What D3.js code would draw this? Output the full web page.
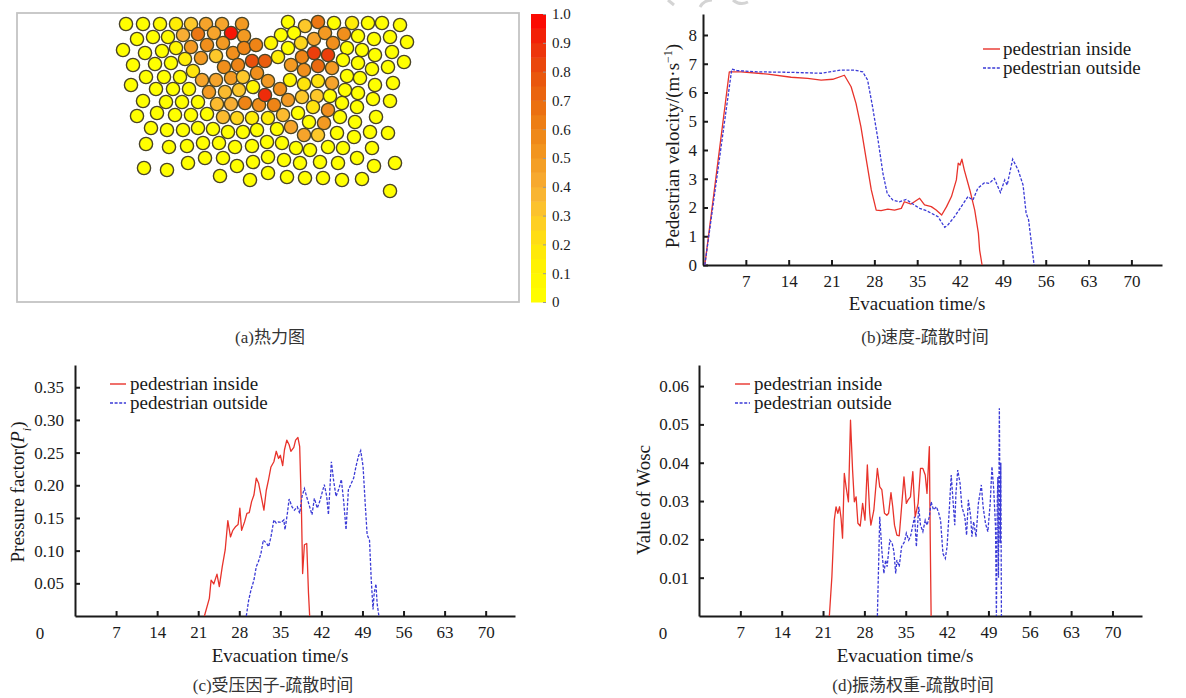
<!DOCTYPE html>
<html>
<head>
<meta charset="utf-8">
<script src="https://cdn.jsdelivr.net/npm/d3@7"></script>
<style>
  body { margin: 0; background: #fff; }
  svg { display: block; }
</style>
</head>
<body>
<svg id="fig" width="1186" height="698"></svg>
<script>
// ---------- (a) crowd pressure heat map: pedestrians [x, y, pressure] in room units ----------
const roomWidth = 50.2, roomDepth = 28.9, pedRadius = 0.66;
const pedestrians = [
  [10.9,1.1,0],[12.6,1.1,0],[14.3,1.1,0.05],[15.9,1.1,0.15],[17.4,1.1,0.3],[18.9,1.1,0.45],[20.5,1.1,0.45],[22.5,1.1,0.5],
  [12.0,2.6,0],[13.6,2.4,0],[15.1,2.4,0.05],[16.6,2.2,0.4],[18.1,2.1,0.65],[19.7,2.0,0.45],[21.4,2.0,0.95],[22.7,2.3,0.5],
  [10.6,3.7,0],[12.8,4.0,0],[14.5,3.8,0],[15.9,3.5,0.1],[17.4,3.4,0.5],[19.0,3.2,0.55],[20.6,3.0,0.5],[21.6,4.0,0.55],[22.7,3.5,0.6],[23.9,3.2,0.6],
  [11.6,5.2,0],[13.8,5.1,0],[15.4,5.0,0],[16.8,4.6,0.15],[18.4,4.5,0.5],[19.9,4.3,0.3],[20.7,5.4,0.55],[22.1,5.2,0.6],[23.5,4.8,0.8],
  [12.9,6.4,0],[14.7,6.4,0],[16.3,6.4,0],[17.6,5.8,0.2],[18.5,6.7,0.45],[19.9,6.7,0.45],[21.4,6.5,0.5],[22.6,6.4,0.3],[24.0,6.0,0.55],
  [11.4,7.2,0],[13.9,7.6,0],[15.6,7.6,0],[17.2,7.6,0.05],[19.2,7.9,0.5],[20.8,7.9,0.35],[22.2,7.7,0.3],[23.6,7.4,0.1],
  [12.6,8.8,0],[14.9,8.9,0],[16.5,8.9,0],[18.1,8.9,0],[20.0,9.1,0.35],[21.4,9.1,0.4],[22.8,9.0,0.6],[24.2,9.2,0.55],
  [12.0,10.3,0],[14.0,10.0,0],[15.8,10.2,0],[17.4,10.2,0],[19.0,10.1,0],[20.6,10.4,0.35],[22.0,10.5,0.25],[23.5,10.5,0.15],
  [13.4,11.5,0],[15.0,11.7,0],[16.6,11.7,0],[18.1,11.5,0],[19.6,11.6,0],[21.1,11.9,0],[22.6,11.9,0],[24.0,11.7,0],
  [12.9,13.1,0],[15.2,13.4,0],[17.0,13.3,0],[18.6,13.0,0],[20.2,13.0,0],[21.8,13.4,0],[23.5,13.3,0],
  [18.8,14.5,0],[20.6,14.5,0],[22.0,15.3,0],[23.6,14.9,0],
  [12.7,15.5,0],[15.0,15.7,0],[17.1,15.0,0],[20.3,16.3,0],[23.3,16.7,0],
  [27.1,0.9,0],[28.8,1.3,0.3],[30.1,0.9,0.65],[31.7,1.0,0],[33.5,1.0,0.15],[35.1,1.0,0],[36.5,1.0,0],[38.3,1.2,0],
  [26.4,2.2,0],[27.7,2.0,0],[29.7,2.6,0.45],[30.8,2.0,0.5],[32.7,2.1,0.55],[34.1,2.3,0],[35.7,2.6,0],[37.3,2.4,0],[39.0,2.9,0],
  [25.4,3.0,0.1],[27.1,3.5,0],[28.4,3.0,0.25],[31.6,3.0,0.55],
  [24.8,4.8,0.75],[26.1,4.4,0.15],[28.5,4.4,0.6],[29.7,4.0,0.85],[31.1,4.2,0.85],[33.0,3.5,0],[34.5,3.7,0],[35.8,4.2,0],[37.5,3.9,0],[38.7,4.9,0],[32.6,4.7,0],
  [27.4,5.2,0.5],[28.7,5.7,0.55],[30.1,5.3,0.7],[31.5,5.5,0.5],[34.1,5.0,0],[35.5,5.6,0],[37.1,5.4,0],
  [25.1,6.8,0.5],[27.3,6.7,0.1],[28.7,7.1,0.2],[30.1,6.8,0.2],[31.5,7.0,0.45],[33.0,6.3,0],[34.3,6.5,0],[35.8,7.2,0],[37.6,7.0,0],
  [24.8,8.2,0.9],[26.3,7.6,0.55],[27.1,8.7,0.5],[28.5,8.4,0.3],[30.0,8.3,0.3],[31.3,8.3,0],[32.8,7.7,0],[34.1,8.0,0],[35.6,8.6,0],[37.3,8.8,0],
  [25.7,9.2,0.6],[29.6,9.4,0.2],[31.1,9.7,0.55],[32.5,9.0,0],[34.0,9.4,0],
  [25.1,10.5,0.15],[26.6,10.2,0.35],[28.1,10.0,0],[29.2,10.9,0],[30.7,11.0,0.5],[32.3,10.4,0],[33.8,10.9,0],[35.9,10.4,0],
  [26.0,11.6,0],[27.4,11.4,0.45],[28.7,12.2,0.45],[30.1,12.2,0.3],[32.0,12.0,0],[33.7,12.4,0],[35.3,11.9,0],[37.1,12.0,0],
  [25.0,12.9,0],[26.5,13.0,0],[27.9,13.5,0],[29.3,13.7,0],[31.1,13.4,0],[32.6,13.5,0],[35.5,13.5,0],
  [25.1,14.4,0],[26.7,14.7,0],[28.3,15.0,0],[30.3,14.9,0],[32.1,15.0,0],[34.0,14.5,0],[35.7,15.3,0],[37.8,15.0,0],
  [25.1,16.0,0],[27.0,16.4,0],[28.8,16.5,0],[30.6,16.5,0],[32.5,16.7,0],[34.5,16.6,0],
  [37.3,17.8,0]
];
const colorStops  = [0, 0.1, 0.2, 0.3, 0.4, 0.5, 0.6, 0.7, 0.8, 0.9, 1.0];
const colorValues = ["#ffff00","#fff600","#ffe40c","#fdc82a","#f8ae34","#f39a22","#ee8416","#ea6a10","#e8500c","#ee2c0a","#ff0000"];
const colorbarTicks = [0, 0.1, 0.2, 0.3, 0.4, 0.5, 0.6, 0.7, 0.8, 0.9, 1.0];
const colorbarBands = 20;

// ---------- (b) velocity vs evacuation time: [t (s), v (m/s)] ----------
const velocityInside = [
  [0.3,0],[4.3,6.72],[6.2,6.72],[10.6,6.64],[14.4,6.53],[17.1,6.49],[19.3,6.43],[21.2,6.46],[23.1,6.6],
  [24.2,6.2],[25,5.62],[25.8,4.81],[26.6,3.77],[27.5,2.61],[28.3,1.91],[29.1,1.89],[30.2,1.94],[31.3,1.91],
  [32.4,1.97],[32.9,2.2],[34,2.12],[35.4,2.32],[36.2,2.09],[37.3,2.03],[38.1,1.91],[39,1.74],[39.8,2.03],
  [40.6,2.38],[41.4,2.96],[41.7,3.54],[42,3.48],[42.3,3.68],[42.7,3.3],[43.6,2.61],[44.4,1.91],[45,1.1],
  [45.2,0.52],[45.6,0]
];
const velocityOutside = [
  [0.3,0],[4.7,6.81],[5.6,6.76],[8.9,6.72],[14.4,6.7],[19.3,6.67],[22.6,6.78],[24.7,6.78],[26.1,6.72],
  [26.9,6.43],[27.7,5.51],[28.6,4.35],[29.4,3.19],[30.1,2.49],[31,2.26],[32.1,2.2],[33.2,2.28],[34.3,2.12],
  [35.4,1.97],[36.5,1.89],[37.3,1.8],[38.4,1.68],[39.5,1.31],[40,1.39],[41.1,1.68],[42.2,2.03],[43.3,2.38],
  [44.1,2.26],[44.9,2.67],[46,2.86],[46.8,2.84],[47.6,3.01],[48.6,2.52],[49.3,2.96],[49.7,2.78],[50.6,3.68],
  [51.5,3.3],[52.3,2.78],[52.8,1.8],[53.2,1.57],[53.6,0.87],[54.1,0]
];

// ---------- (c) pressure factor vs evacuation time: [t, P] ----------
const pressureInside = [
  [22.06,0],[22.9,0.027],[23.2,0.055],[23.65,0.049],[24.2,0.064],[24.6,0.045],[25.1,0.0755],[25.6,0.101],
  [26.05,0.146],[26.5,0.121],[26.9,0.131],[27.4,0.137],[27.8,0.140],[28.1,0.165],[28.4,0.131],[28.9,0.144],
  [29.3,0.157],[29.7,0.158],[30.1,0.175],[30.5,0.185],[30.9,0.211],[31.3,0.203],[31.7,0.185],[32.2,0.162],
  [32.6,0.192],[33,0.209],[33.4,0.228],[33.9,0.236],[34.3,0.252],[34.7,0.241],[35,0.246],[35.4,0.230],
  [35.7,0.254],[36.1,0.269],[36.5,0.262],[36.8,0.252],[37.3,0.258],[37.6,0.269],[38,0.273],[38.3,0.259],
  [38.6,0.162],[38.8,0.065],[39.1,0.109],[39.5,0.111],[39.8,0.035],[40,0]
];
const pressureOutside = [
  [29.2,0],[29.6,0.024],[30,0.040],[30.5,0.055],[30.9,0.0755],[31.3,0.084],[31.7,0.096],[32.1,0.116],
  [32.6,0.112],[33,0.106],[33.4,0.121],[33.9,0.147],[34.3,0.142],[34.7,0.144],[35.1,0.143],[35.6,0.147],
  [35.8,0.132],[36.2,0.157],[36.5,0.179],[37,0.167],[37.4,0.162],[37.9,0.167],[38.3,0.157],[38.7,0.183],
  [39.1,0.195],[39.6,0.179],[40,0.167],[40.4,0.155],[40.8,0.18],[41.3,0.165],[41.7,0.175],[42.1,0.188],
  [42.5,0.201],[42.9,0.183],[43.2,0.155],[43.7,0.236],[44.1,0.206],[44.5,0.183],[45,0.195],[45.4,0.209],
  [45.8,0.175],[46.2,0.132],[46.6,0.193],[47.1,0.203],[47.5,0.211],[47.9,0.229],[48.3,0.244],[48.7,0.253],
  [49.1,0.229],[49.5,0.167],[49.8,0.124],[50.2,0.116],[50.5,0.055],[50.8,0.010],[51,0.035],[51.3,0.049],
  [51.5,0.019],[51.8,0]
];

// ---------- (d) oscillation weight vs evacuation time: [t, Wosc] ----------
const woscInside = [
  [22.07,0],[22.5,0.0103],[22.9,0.025],[23.2,0.0285],[23.5,0.0268],[23.8,0.0285],[24.05,0.0255],[24.3,0.0203],
  [24.6,0.0372],[24.9,0.0337],[25.3,0.0298],[25.65,0.0511],[26,0.0381],[26.3,0.0298],[26.6,0.0311],[26.9,0.0242],
  [27.3,0.0235],[27.7,0.0294],[28.1,0.025],[28.5,0.0394],[28.9,0.0268],[29.1,0.0237],[29.6,0.0276],[30.2,0.0385],
  [30.6,0.0337],[30.95,0.033],[31.4,0.0268],[31.8,0.0263],[32.1,0.0268],[32.5,0.0322],[32.8,0.0285],[33.1,0.0237],
  [33.5,0.0211],[33.9,0.0209],[34.3,0.0285],[34.7,0.0363],[35.1,0.0294],[35.4,0.0303],[35.8,0.0311],[36.2,0.0377],
  [36.6,0.0259],[37.1,0.0294],[37.5,0.0385],[37.9,0.0385],[38.3,0.0368],[38.6,0.032],[39,0.0442],[39.15,0.02],[39.3,0]
];
const woscOutside = [
  [30.2,0],[30.4,0.0129],[30.6,0.0259],[30.95,0.0172],[31.3,0.0111],[31.6,0.0146],[31.85,0.0129],[32.3,0.0198],
  [32.7,0.019],[33,0.0168],[33.3,0.0111],[33.5,0.0146],[33.9,0.0129],[34.3,0.0181],[34.8,0.0194],[35.1,0.0216],
  [35.5,0.0198],[35.8,0.0207],[36.1,0.0229],[36.5,0.0259],[36.8,0.0181],[37.2,0.0285],[37.5,0.0237],[37.9,0.022],
  [38.3,0.025],[38.6,0.0237],[39,0.0259],[39.3,0.0298],[39.7,0.0277],[40.2,0.0285],[40.6,0.0268],[40.9,0.025],
  [41.3,0.0163],[41.7,0.015],[42,0.0181],[42.4,0.0285],[42.7,0.0368],[43,0.0303],[43.3,0.0237],[43.5,0.032],
  [43.8,0.0381],[44.2,0.0346],[44.5,0.0285],[45,0.0259],[45.3,0.0211],[45.6,0.0303],[46,0.0259],[46.2,0.0207],
  [46.5,0.0246],[46.9,0.0207],[47.3,0.0294],[47.8,0.0342],[48.1,0.0285],[48.5,0.0242],[48.9,0.022],[49.3,0.0294],
  [49.6,0.039],[49.9,0.0329],[50.2,0.0233],[50.35,0],[50.5,0.03],[50.6,0.0363],[50.7,0.01],[50.85,0.0542],
  [50.95,0.03],[51.0,0.019],[51.1,0.04],[51.2,0]
];

const timeTicks = [7, 14, 21, 28, 35, 42, 49, 56, 63, 70];
const velocityTicks = [0, 1, 2, 3, 4, 5, 6, 7, 8];
const pressureTicks = [0.05, 0.10, 0.15, 0.20, 0.25, 0.30, 0.35];
const woscTicks = [0.01, 0.02, 0.03, 0.04, 0.05, 0.06];
const legendNames = ["pedestrian inside", "pedestrian outside"];
const captions = ["(a)热力图", "(b)速度-疏散时间", "(c)受压因子-疏散时间", "(d)振荡权重-疏散时间"];

// ---------- styling ----------
const SERIF = "'Liberation Serif','Times New Roman',serif";
const CAPTION_FONT = "'Liberation Serif','Noto Sans CJK SC',serif";
const INK = "#1a1a1a";
const RED = "#e8332b";
const BLUE = "#3a3ad6";

const svg = d3.select("#fig");

// faint mark at the top edge of the page
svg.append("g").attr("fill", "none").attr("stroke", "#d4d4d4").attr("stroke-width", 3)
  .selectAll("path").data(["M668,0 L674,5", "M700,7 Q704,0 712,0", "M733,0 Q740,6 748,2"])
  .join("path").attr("d", d => d);

// ================= (a) heat map =================
const heatX = d3.scaleLinear().domain([0, roomWidth]).range([17, 519]);
const heatY = d3.scaleLinear().domain([0, roomDepth]).range([13, 302]);
const heatColor = d3.scaleLinear().domain(colorStops).range(colorValues).interpolate(d3.interpolateRgb);

svg.append("rect")
  .attr("x", heatX(0)).attr("y", heatY(0))
  .attr("width", heatX(roomWidth) - heatX(0)).attr("height", heatY(roomDepth) - heatY(0))
  .attr("fill", "#fff").attr("stroke", "#c4c4c4").attr("stroke-width", 1.8);

const pr = heatX(pedRadius) - heatX(0);
svg.append("g").selectAll("circle").data(pedestrians).join("circle")
  .attr("cx", d => heatX(d[0])).attr("cy", d => heatY(d[1])).attr("r", pr)
  .attr("fill", d => heatColor(d[2]))
  .attr("stroke", "#4a4426").attr("stroke-width", 1.4);

// colour bar
const cbScale = d3.scaleLinear().domain([0, 1]).range([302, 14]);
const bandVals = d3.range(colorbarBands).map(i => i / colorbarBands);
const cbX = 531, cbW = 15;
svg.append("g").selectAll("rect").data(bandVals).join("rect")
  .attr("x", cbX).attr("width", cbW)
  .attr("y", d => cbScale(d + 1 / colorbarBands))
  .attr("height", d => cbScale(d) - cbScale(d + 1 / colorbarBands) + 0.5)
  .attr("fill", d => heatColor(d + 0.5 / colorbarBands));
const cbAxis = svg.append("g").attr("transform", `translate(${cbX + cbW},0)`)
  .call(d3.axisRight(cbScale).tickValues(colorbarTicks)
    .tickFormat(d => d === 0 ? "0" : d3.format(".1f")(d)).tickSize(-3).tickPadding(6).tickSizeOuter(0));
cbAxis.select(".domain").remove();
cbAxis.selectAll(".tick line").attr("stroke", "#999").attr("stroke-width", 1);
cbAxis.selectAll("text").attr("font-family", SERIF).attr("font-size", 15).attr("fill", INK);

// ================= line panels =================
function linePanel(cfg) {
  const g = svg.append("g");
  const x = d3.scaleLinear().domain([0, 75]).range(cfg.xRange);
  const y = d3.scaleLinear().domain(cfg.yDomain).range(cfg.yRange);

  const styleAxis = sel => {
    sel.select(".domain").attr("stroke", INK).attr("stroke-width", 2);
    sel.selectAll(".tick line").attr("stroke", INK).attr("stroke-width", 2);
    sel.selectAll("text").attr("font-family", SERIF).attr("font-size", 17).attr("fill", INK);
  };
  g.append("g").attr("transform", `translate(0,${cfg.yRange[0]})`)
    .call(d3.axisBottom(x).tickValues(timeTicks).tickFormat(d3.format("d"))
      .tickSize(-5).tickSizeOuter(0).tickPadding(10))
    .call(styleAxis);
  g.append("g").attr("transform", `translate(${cfg.xRange[0]},0)`)
    .call(d3.axisLeft(y).tickValues(cfg.yTicks).tickFormat(cfg.yFormat)
      .tickSize(-5).tickSizeOuter(0).tickPadding(cfg.yPad))
    .call(styleAxis);

  if (cfg.origin) {
    g.append("text").attr("x", cfg.origin[0]).attr("y", cfg.origin[1]).attr("dy", "0.35em")
      .attr("text-anchor", "middle").attr("font-family", SERIF).attr("font-size", 17)
      .attr("fill", INK).text("0");
  }

  const line = d3.line().x(d => x(d[0])).y(d => y(d[1]));
  g.append("path").datum(cfg.inside).attr("d", line)
    .attr("fill", "none").attr("stroke", RED).attr("stroke-width", 1.3).attr("stroke-linejoin", "round");
  g.append("path").datum(cfg.outside).attr("d", line)
    .attr("fill", "none").attr("stroke", BLUE).attr("stroke-width", 1.3).attr("stroke-dasharray", "3,1.6");

  // legend
  const lg = g.append("g");
  legendNames.forEach((name, i) => {
    const ly = cfg.legend.y[i];
    lg.append("line").attr("x1", cfg.legend.x[0]).attr("x2", cfg.legend.x[1])
      .attr("y1", ly).attr("y2", ly)
      .attr("stroke", i === 0 ? RED : BLUE).attr("stroke-width", 1.4)
      .attr("stroke-dasharray", i === 0 ? null : "3,1.6");
    lg.append("text").attr("x", cfg.legend.tx).attr("y", ly).attr("dy", "0.32em")
      .attr("font-family", SERIF).attr("font-size", 19).attr("fill", INK).text(name);
  });

  // axis titles
  g.append("text").attr("x", cfg.xTitle[0]).attr("y", cfg.xTitle[1]).attr("dy", "0.35em")
    .attr("text-anchor", "middle").attr("font-family", SERIF).attr("font-size", 19)
    .attr("fill", INK).text("Evacuation time/s");
  const yt = g.append("text")
    .attr("transform", `translate(${cfg.yTitle[0]},${cfg.yTitle[1]}) rotate(-90)`)
    .attr("dy", "0.35em").attr("text-anchor", "middle")
    .attr("font-family", SERIF).attr("font-size", 19).attr("fill", INK);
  cfg.yTitleParts.forEach(p => {
    const t = yt.append("tspan").text(p.text);
    if (p.italic) t.attr("font-style", "italic");
    if (p.shift) t.attr("baseline-shift", p.shift).attr("font-size", 12);
  });
}

linePanel({
  xRange: [703, 1162], yRange: [265, 14], yDomain: [0, 8.73],
  yTicks: velocityTicks, yFormat: d3.format("d"), yPad: 6,
  inside: velocityInside, outside: velocityOutside,
  legend: { x: [983, 1000], tx: 1003, y: [49, 68] },
  xTitle: [917, 303], yTitle: [672, 146],
  yTitleParts: [{ text: "Pedestrian velocity/(m·s" }, { text: "−1", shift: "super" }, { text: ")" }]
});

linePanel({
  xRange: [75, 515], yRange: [616, 365], yDomain: [0, 0.384],
  yTicks: pressureTicks, yFormat: d3.format(".2f"), yPad: 11, origin: [40, 633],
  inside: pressureInside, outside: pressureOutside,
  legend: { x: [110, 126], tx: 130, y: [384, 403] },
  xTitle: [280, 655], yTitle: [17, 492],
  yTitleParts: [{ text: "Pressure factor(" }, { text: "P", italic: true }, { text: "i", italic: true, shift: "sub" }, { text: ")" }]
});

linePanel({
  xRange: [699, 1142], yRange: [616, 365], yDomain: [0, 0.0655],
  yTicks: woscTicks, yFormat: d3.format(".2f"), yPad: 10, origin: [663, 633],
  inside: woscInside, outside: woscOutside,
  legend: { x: [735, 750], tx: 754, y: [384, 403] },
  xTitle: [905, 655], yTitle: [643, 500],
  yTitleParts: [{ text: "Value of Wosc" }]
});

// ================= sub-figure captions =================
const captionPos = [[270, 337], [925, 337], [273, 685], [913, 685]];
svg.append("g").selectAll("text").data(captions).join("text")
  .attr("x", (d, i) => captionPos[i][0]).attr("y", (d, i) => captionPos[i][1]).attr("dy", "0.35em")
  .attr("text-anchor", "middle").attr("font-family", CAPTION_FONT).attr("font-size", 17)
  .attr("fill", "#333").text(d => d);
</script>
</body>
</html>
